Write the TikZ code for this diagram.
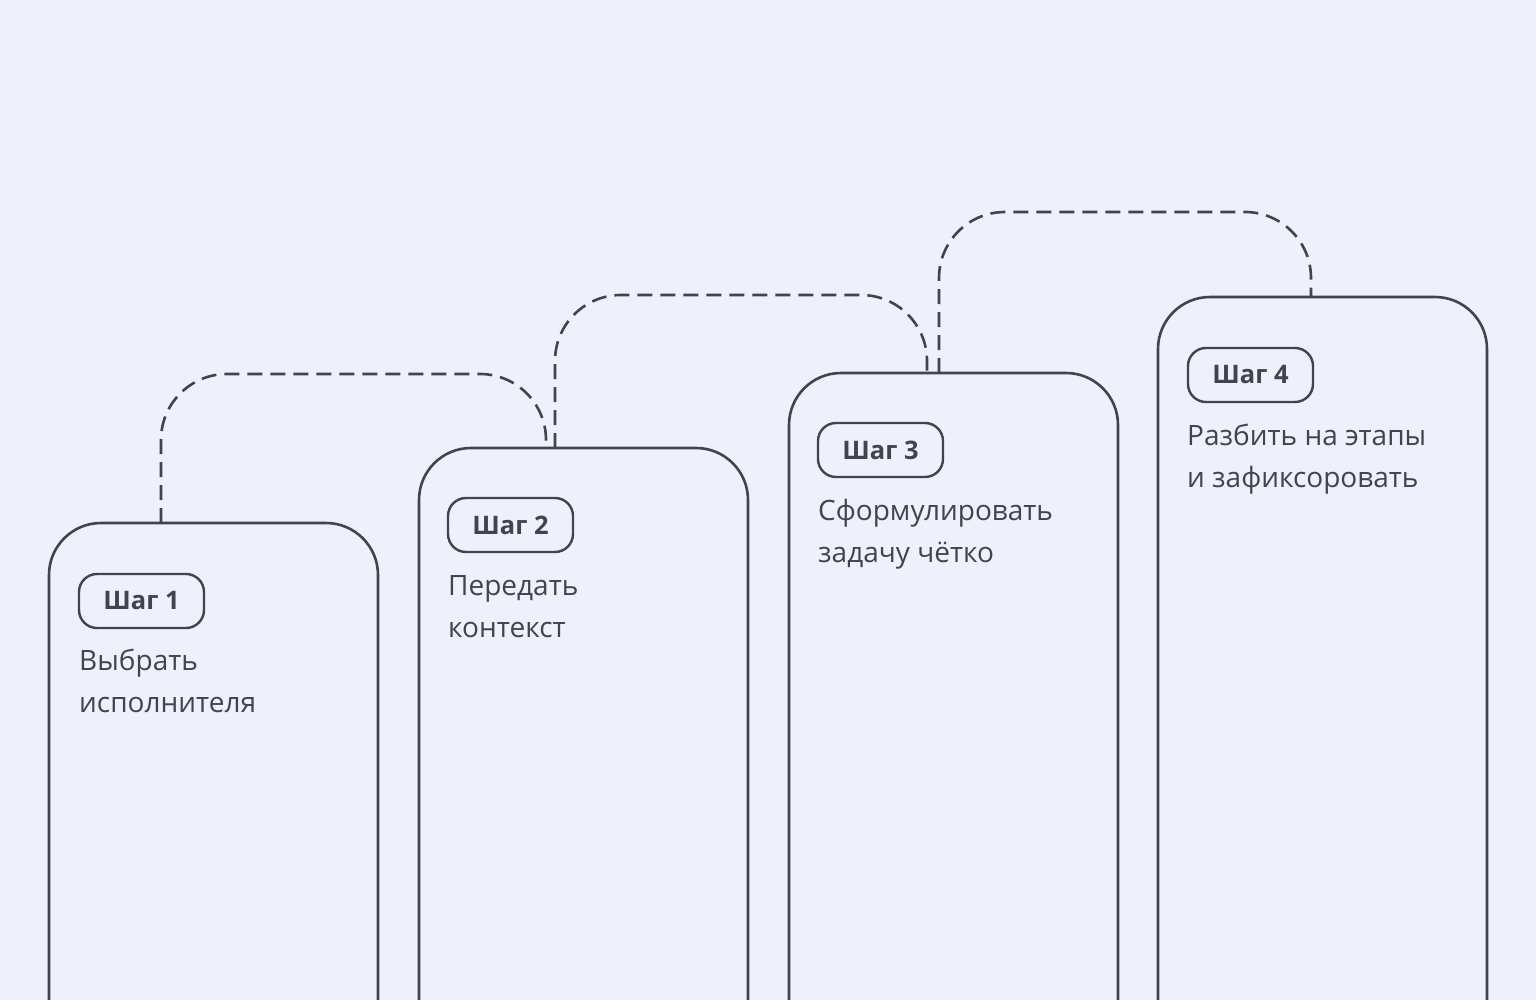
\documentclass[tikz,border=0pt]{standalone}
\usepackage{fontspec}
\setmainfont{Open Sans}
\definecolor{bg}{RGB}{238,241,249}
\definecolor{ink}{RGB}{66,68,77}
\begin{document}
\begin{tikzpicture}[x=1pt,y=-1pt,
  card/.style={draw=ink,line width=2.6pt,rounded corners=52pt,minimum width=329pt,minimum height=900pt,inner sep=0pt,outer sep=0pt,anchor=north west},
  badge/.style={draw=ink,line width=2.4pt,rounded corners=18pt,minimum width=125pt,minimum height=54pt,inner sep=0pt,outer sep=0pt,anchor=north west,font=\fontsize{25.5}{30}\selectfont\bfseries,text=ink},
  body/.style={anchor=base west,inner sep=0pt,align=left,font=\fontsize{28}{42}\selectfont,text=ink},
  conn/.style={draw=ink,line width=2.6pt,dash pattern=on 15pt off 8pt,rounded corners=66pt}]
\fill[bg] (0,0) rectangle (1536,1000);
\useasboundingbox (0,0) rectangle (1536,1000);
\clip (0,0) rectangle (1536,1000);
% cards
\node[card] (c1) at (49,523) {};
\node[card] (c2) at (419,448) {};
\node[card] (c3) at (789,373) {};
\node[card] (c4) at (1158,297) {};
% badges
\node[badge] (b1) at ([shift={(30pt,-51pt)}]c1.north west) {Шаг 1};
\node[badge] (b2) at ([shift={(29pt,-50pt)}]c2.north west) {Шаг 2};
\node[badge] (b3) at ([shift={(29pt,-50pt)}]c3.north west) {Шаг 3};
\node[badge] (b4) at ([shift={(30pt,-51pt)}]c4.north west) {Шаг 4};
% body texts (base = baseline of the last line)
\node[body] (t1) at ([shift={(30pt,-189pt)}]c1.north west) {Выбрать\\исполнителя};
\node[body] (t2) at ([shift={(29pt,-189pt)}]c2.north west) {Передать\\контекст};
\node[body] (t3) at ([shift={(29pt,-189pt)}]c3.north west) {Сформулировать\\задачу чётко};
\node[body] (t4) at ([shift={(29pt,-190pt)}]c4.north west) {Разбить на этапы\\и зафиксоровать};
% connectors
\coordinate (a1) at ([xshift=112pt]c1.north west);
\coordinate (e1) at ([xshift=127pt]c2.north west);
\coordinate (a2) at ([xshift=136pt]c2.north west);
\coordinate (e2) at ([xshift=138pt]c3.north west);
\coordinate (a3) at ([xshift=150pt]c3.north west);
\coordinate (e3) at ([xshift=153pt]c4.north west);
\draw[conn] (a1) -- ([yshift=149pt]a1) -| (e1);
\draw[conn] (a2) -- ([yshift=153pt]a2) -| (e2);
\draw[conn] (a3) -- ([yshift=161pt]a3) -| (e3);
\end{tikzpicture}
\end{document}
